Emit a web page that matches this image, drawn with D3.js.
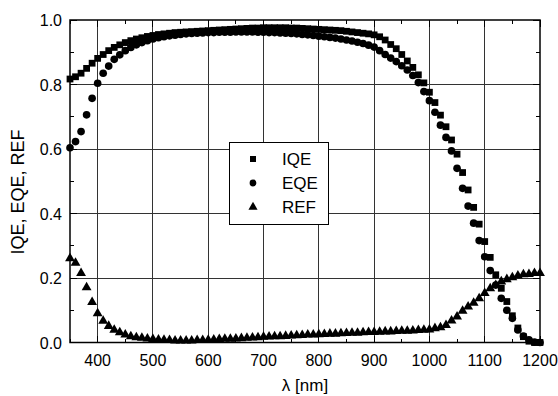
<!DOCTYPE html>
<html>
<head>
<meta charset="utf-8">
<script src="https://cdn.jsdelivr.net/npm/d3@7"></script>
<style>
  body { margin: 0; background: #fff; }
  svg { display: block; font-family: "Liberation Sans", Arial, sans-serif; }
</style>
</head>
<body>
<svg id="chart" width="558" height="396"></svg>
<script>
// wavelengths, every 10 nm from 350 to 1200
const wavelength = d3.range(350, 1201, 10);

const iqe = [
  0.817, 0.824, 0.835, 0.850, 0.866, 0.881, 0.893, 0.905, 0.915, 0.923,
  0.930, 0.936, 0.941, 0.945, 0.949, 0.952, 0.955, 0.957, 0.959, 0.961,
  0.962, 0.963, 0.964, 0.965, 0.966, 0.967, 0.968, 0.969, 0.970, 0.971,
  0.972, 0.973, 0.974, 0.975, 0.975, 0.976, 0.976, 0.976, 0.976, 0.976,
  0.975, 0.975, 0.974, 0.973, 0.972, 0.971, 0.970, 0.969, 0.968, 0.967,
  0.965, 0.963, 0.961, 0.959, 0.957, 0.954, 0.948, 0.938, 0.924, 0.911,
  0.893, 0.873, 0.853, 0.830, 0.805, 0.776, 0.744, 0.705, 0.669, 0.628,
  0.584, 0.527, 0.473, 0.419, 0.367, 0.313, 0.264, 0.210, 0.168, 0.127,
  0.083, 0.045, 0.018, 0.004, 0.000, 0.000
];

const eqe = [
  0.604, 0.623, 0.654, 0.706, 0.757, 0.804, 0.835, 0.857, 0.878, 0.892,
  0.905, 0.915, 0.923, 0.930, 0.936, 0.941, 0.945, 0.948, 0.951, 0.953,
  0.955, 0.957, 0.958, 0.959, 0.960, 0.961, 0.961, 0.962, 0.962, 0.962,
  0.963, 0.963, 0.963, 0.963, 0.962, 0.962, 0.961, 0.961, 0.960, 0.959,
  0.958, 0.957, 0.955, 0.954, 0.952, 0.950, 0.948, 0.946, 0.944, 0.941,
  0.938, 0.935, 0.931, 0.927, 0.922, 0.916, 0.905, 0.893, 0.882, 0.871,
  0.858, 0.845, 0.828, 0.806, 0.778, 0.750, 0.714, 0.674, 0.636, 0.594,
  0.540, 0.478, 0.423, 0.370, 0.316, 0.266, 0.223, 0.178, 0.137, 0.100,
  0.075, 0.039, 0.020, 0.008, 0.001, 0.000
];

const ref = [
  0.261, 0.247, 0.215, 0.171, 0.125, 0.090, 0.067, 0.051, 0.039, 0.031,
  0.024, 0.019, 0.016, 0.014, 0.012, 0.010, 0.009, 0.008, 0.007, 0.006,
  0.006, 0.006, 0.006, 0.007, 0.007, 0.008, 0.009, 0.010, 0.011, 0.011,
  0.012, 0.013, 0.014, 0.015, 0.016, 0.017, 0.018, 0.019, 0.019, 0.020,
  0.021, 0.022, 0.023, 0.024, 0.024, 0.025, 0.026, 0.027, 0.027, 0.028,
  0.029, 0.030, 0.030, 0.031, 0.032, 0.032, 0.033, 0.034, 0.034, 0.035,
  0.036, 0.036, 0.037, 0.038, 0.039, 0.040, 0.044, 0.047, 0.054, 0.068,
  0.080, 0.098, 0.111, 0.123, 0.137, 0.153, 0.168, 0.178, 0.189, 0.196,
  0.202, 0.207, 0.211, 0.212, 0.215, 0.215
];

const xTicks = [400, 500, 600, 700, 800, 900, 1000, 1100, 1200];
const yTicks = [0.0, 0.2, 0.4, 0.6, 0.8, 1.0];
const xMinor = d3.range(350, 1201, 50);
const yMinor = d3.range(0, 1.001, 0.1);

const series = [
  { name: "IQE", values: iqe, symbol: d3.symbolSquare, size: 46 },
  { name: "EQE", values: eqe, symbol: d3.symbolCircle, size: 46 },
  { name: "REF", values: ref, symbol: d3.symbolTriangle, size: 42 }
];

const svg = d3.select("#chart");
const x = d3.scaleLinear().domain([350, 1200]).range([70, 540]);
const y = d3.scaleLinear().domain([0, 1]).range([342.5, 20]);

const grid = svg.append("g").attr("shape-rendering", "crispEdges");
grid.selectAll(".gx")
  .data(xTicks.slice(0, -1))
  .enter().append("line")
    .attr("x1", d => x(d)).attr("x2", d => x(d))
    .attr("y1", y(0)).attr("y2", y(1))
    .style("stroke", "#333").style("stroke-width", 1);
grid.selectAll(".gy")
  .data(yTicks.slice(1, -1))
  .enter().append("line")
    .attr("x1", x(350)).attr("x2", x(1200))
    .attr("y1", d => y(d)).attr("y2", d => y(d))
    .style("stroke", "#333").style("stroke-width", 1);

// inward ticks on all four sides
const ticks = svg.append("g").attr("shape-rendering", "crispEdges")
  .style("stroke", "#000").style("stroke-width", 1);
xMinor.forEach(v => {
  const len = v % 100 === 0 ? 7 : 4;
  ticks.append("line").attr("x1", x(v)).attr("x2", x(v)).attr("y1", y(0)).attr("y2", y(0) - len);
  ticks.append("line").attr("x1", x(v)).attr("x2", x(v)).attr("y1", y(1)).attr("y2", y(1) + len);
});
yMinor.forEach(v => {
  const len = Math.round(v * 10) % 2 === 0 ? 7 : 4;
  ticks.append("line").attr("x1", x(350)).attr("x2", x(350) + len).attr("y1", y(v)).attr("y2", y(v));
  ticks.append("line").attr("x1", x(1200)).attr("x2", x(1200) - len).attr("y1", y(v)).attr("y2", y(v));
});

svg.append("rect")
  .attr("x", x(350)).attr("y", y(1))
  .attr("width", x(1200) - x(350)).attr("height", y(0) - y(1))
  .style("fill", "none").style("stroke", "#000").style("stroke-width", 1.5);

// tick labels
svg.selectAll(".xl")
  .data(xTicks)
  .enter().append("text")
    .attr("x", d => x(d)).attr("y", y(0) + 23)
    .attr("text-anchor", "middle")
    .style("font-size", "16px")
    .text(d => d);
svg.selectAll(".yl")
  .data(yTicks)
  .enter().append("text")
    .attr("x", x(350) - 8).attr("y", d => y(d) + 6)
    .attr("text-anchor", "end")
    .style("font-size", "16px")
    .text(d => d.toFixed(1));

svg.append("text")
  .attr("x", (x(350) + x(1200)) / 2).attr("y", 391)
  .attr("text-anchor", "middle")
  .style("font-size", "17px")
  .text("λ [nm]");
svg.append("text")
  .attr("transform", "translate(24,192) rotate(-90)")
  .attr("text-anchor", "middle")
  .style("font-size", "18px")
  .text("IQE, EQE, REF");

// data points
series.forEach(s => {
  svg.append("g").selectAll("path")
    .data(wavelength.map((w, i) => [w, s.values[i]]))
    .enter().append("path")
      .attr("transform", d => "translate(" + x(d[0]) + "," + y(d[1]) + ")")
      .attr("d", d3.symbol().type(s.symbol).size(s.size))
      .style("fill", "#000");
});

// legend
const lg = svg.append("g").attr("transform", "translate(229,142)");
lg.append("rect")
  .attr("width", 99).attr("height", 82)
  .attr("shape-rendering", "crispEdges")
  .style("fill", "#fff").style("stroke", "#000").style("stroke-width", 1);
series.forEach((s, i) => {
  const cy = 17 + i * 24;
  lg.append("path")
    .attr("transform", "translate(24," + cy + ")")
    .attr("d", d3.symbol().type(s.symbol).size(36))
    .style("fill", "#000");
  lg.append("text")
    .attr("x", 53).attr("y", cy + 6)
    .style("font-size", "17px")
    .text(s.name);
});
</script>
</body>
</html>
